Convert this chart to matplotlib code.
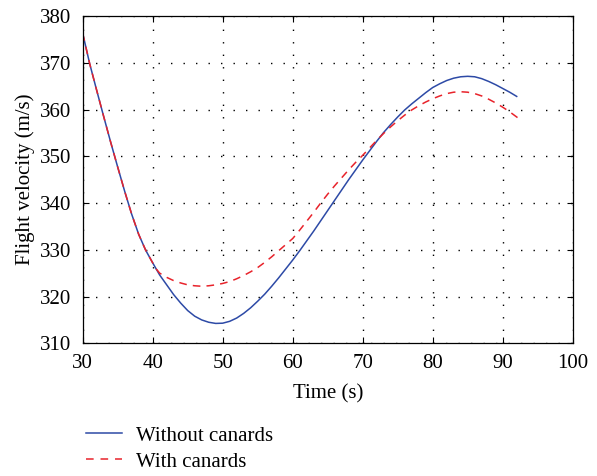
import matplotlib.pyplot as plt
from matplotlib.lines import Line2D

# Time (s) and flight velocity (m/s)
t_without = [30, 31, 32, 33, 34, 35, 36, 37, 38, 39, 40, 40.5, 41, 42, 43, 44, 45, 46, 47, 48,
             49, 50, 51, 52, 53, 54, 55, 56, 57, 58, 59, 60, 61, 62, 63, 64, 65, 66, 67, 68,
             69, 70, 71, 72, 73, 74, 75, 76, 77, 78, 79, 80, 81, 82, 83, 84, 85, 86, 87, 88,
             89, 90, 91, 92]
v_without = [376.3, 369.8, 364.1, 358.5, 353.0, 347.7, 342.5, 337.6, 333.3, 329.9, 327.2, 325.9,
             324.6, 322.5, 320.4, 318.6, 317.0, 315.8, 315.0, 314.5, 314.25, 314.3, 314.7,
             315.4, 316.4, 317.6, 319.0, 320.5, 322.2, 324.0, 325.9, 327.8, 329.8, 331.9, 334.0,
             336.2, 338.4, 340.6, 342.8, 345.0, 347.1, 349.2, 351.2, 353.2, 355.1, 356.8, 358.4,
             359.9, 361.2, 362.4, 363.6, 364.7, 365.5, 366.2, 366.7, 367.0, 367.1, 367.0, 366.6,
             366.0, 365.3, 364.5, 363.7, 362.8]

t_with = [30, 31, 32, 33, 34, 35, 36, 37, 38, 39, 40, 40.5, 41, 42, 43, 44, 45, 46, 47, 48,
          49, 50, 51, 52, 53, 54, 55, 56, 57, 58, 59, 60, 61, 62, 63, 64, 65, 66, 67, 68, 69,
          70, 71, 72, 73, 74, 75, 76, 77, 78, 79, 80, 81, 82, 83, 84, 85, 86, 87, 88, 89, 90,
          91, 92, 92.6]
v_with = [376.3, 369.8, 364.1, 358.5, 353.0, 347.7, 342.5, 337.6, 333.3, 329.9, 327.2, 325.9,
          325.0, 324.1, 323.4, 322.9, 322.5, 322.3, 322.2, 322.3, 322.5, 322.8, 323.2, 323.8,
          324.5, 325.3, 326.2, 327.3, 328.5, 329.8, 331.1, 332.4, 334.2, 336.1, 338.0, 340.0,
          341.9, 343.7, 345.4, 347.1, 348.7, 350.2, 351.8, 353.4, 354.9, 356.3, 357.6, 358.8,
          359.9, 360.8, 361.6, 362.3, 362.9, 363.4, 363.7, 363.8, 363.7, 363.4, 362.9, 362.2,
          361.4, 360.5, 359.5, 358.4, 357.7]

blue = '#2d4aa6'
red = '#e8232b'

plt.rcParams['font.family'] = ['Liberation Serif', 'DejaVu Serif']
plt.rcParams['font.size'] = 15

fig = plt.figure(figsize=(5.97, 4.76), dpi=100)
ax = fig.add_axes([0.1385, 0.2788, 0.8208, 0.6876])

ax.plot(t_without, v_without, color=blue, lw=1.1)
ax.plot(t_with, v_with, color=red, lw=1.1, ls=(0, (5, 4)))

ax.set_xlim(30, 100)
ax.set_ylim(310, 380)
ax.set_xticks(range(30, 101, 10))
ax.set_yticks(range(310, 381, 10))
ax.grid(True, color='black', ls=(0, (1, 8)), lw=1.0)
ax.tick_params(direction='in', top=True, right=True, length=4, pad=8)
for s in ax.spines.values():
    s.set_linewidth(0.9)

ax.set_xlabel('Time (s)', labelpad=8)
ax.set_ylabel('Flight velocity (m/s)', labelpad=4)

handles = [Line2D([], [], color=blue, lw=1.1),
           Line2D([], [], color=red, lw=1.1, ls=(0, (5, 4.5)))]
fig.legend(handles, ['Without canards', 'With canards'], loc='lower left',
           bbox_to_anchor=(0.113, -0.03), frameon=False, handlelength=1.7,
           labelspacing=0.3, handletextpad=0.7)

fig.savefig('out.png', dpi=100)
